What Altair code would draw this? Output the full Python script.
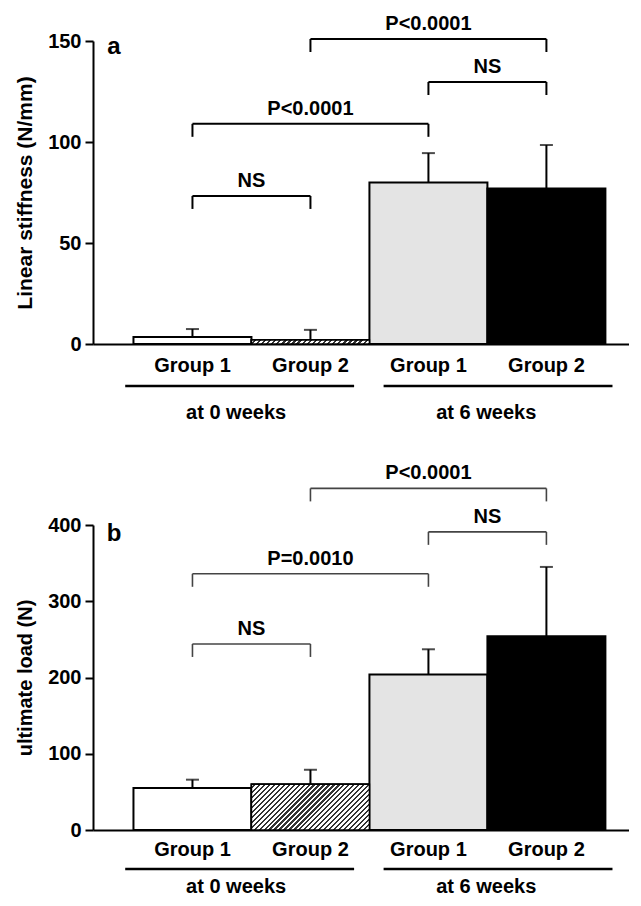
import altair as alt
import pandas as pd

FONT = "Liberation Sans"

# ---- data ----
positions = [1, 2, 3, 4]
groups = ["Group 1", "Group 2", "Group 1", "Group 2"]
styles = ["white", "hatch", "gray", "black"]

stiff_mean = [3.5, 2.0, 80.0, 77.0]
stiff_sd = [3.9, 5.0, 14.5, 21.5]
load_mean = [55, 60, 204, 254]
load_sd = [11, 19, 33, 91]

stiff_br_from = [1, 1, 2, 3]
stiff_br_to = [2, 3, 4, 4]
stiff_br_level = [73.3, 109, 151, 129.7]
stiff_br_label = ["NS", "P<0.0001", "P<0.0001", "NS"]

load_br_from = [1, 1, 2, 3]
load_br_to = [2, 3, 4, 4]
load_br_level = [244, 336, 448, 391]
load_br_label = ["NS", "P=0.0010", "P<0.0001", "NS"]

period_start = [0.43, 2.62]
period_end = [2.37, 4.56]
period_label_pos = [1.37, 3.49]
period_labels = ["at 0 weeks", "at 6 weeks"]

# ---- layout ----
W = 536
X_DOMAIN = [0.157, 4.70]
BAR_PX = W / (X_DOMAIN[1] - X_DOMAIN[0])


def hatch_gradient(h_px, w_px=BAR_PX, period=5.0, dark="#333333"):
    h_px = max(h_px, 1.0)
    d = w_px * w_px + h_px * h_px
    dx = (w_px + h_px) * w_px / d
    dy = (w_px + h_px) * h_px / d
    n = max(int(round((w_px + h_px) / period)), 1)
    stops = []
    for k in range(n):
        a = k / n
        b = (k + 0.55) / n
        c = (k + 1) / n
        stops += [
            alt.GradientStop(color="white", offset=a),
            alt.GradientStop(color="white", offset=b),
            alt.GradientStop(color=dark, offset=b),
            alt.GradientStop(color=dark, offset=c),
        ]
    return alt.LinearGradient(gradient="linear", stops=stops, x1=0, y1=0, x2=dx, y2=dy)


def panel(mean, sd, br_from, br_to, br_level, br_label, ymax, yticks, ytitle,
          letter, H, br_color, br_width, title_size, letter_y, offs):
    bars = pd.DataFrame({
        "pos": positions, "group": groups, "style": styles,
        "mean": mean, "top": [m + s for m, s in zip(mean, sd)],
    })
    xscale = alt.Scale(domain=X_DOMAIN, nice=False, zero=False)
    yscale = alt.Scale(domain=[0, ymax], nice=False)
    base = alt.Chart(bars).transform_calculate(xl="datum.pos - 0.5", xr="datum.pos + 0.5")

    bar = base.mark_bar(stroke="black", strokeWidth=2).encode(
        x=alt.X("xl:Q", scale=xscale,
                axis=alt.Axis(labels=False, ticks=False, title=None, grid=False,
                              domainColor="black", domainWidth=2)),
        x2="xr:Q",
        y=alt.Y("mean:Q", scale=yscale,
                axis=alt.Axis(values=yticks, title=ytitle, grid=False,
                              domainColor="black", domainWidth=2,
                              tickColor="black", tickWidth=2, tickSize=8,
                              labelFont=FONT, labelFontWeight="bold", labelFontSize=20,
                              labelColor="black", labelPadding=4,
                              titleFont=FONT, titleFontWeight="bold", titleFontSize=title_size,
                              titleColor="black", titlePadding=12)),
        y2=alt.datum(0),
        fill=alt.Fill("style:N", scale=alt.Scale(domain=styles,
                                                 range=["white", "white", "#e4e4e4", "black"]),
                      legend=None),
    )
    h_px = mean[1] / ymax * H
    hatch = base.transform_filter("datum.style == 'hatch'").mark_bar(
        fill=hatch_gradient(h_px), stroke="black", strokeWidth=1.5
    ).encode(x="xl:Q", x2="xr:Q", y="mean:Q", y2=alt.datum(0))

    err = base.mark_rule(color="black", strokeWidth=2).encode(
        x="pos:Q", y="mean:Q", y2="top:Q")
    cap = base.mark_tick(orient="horizontal", size=13, thickness=2, color="black").encode(
        x="pos:Q", y="top:Q")

    drop = 13.0 * ymax / H
    br = pd.DataFrame({"from": br_from, "to": br_to, "level": br_level, "label": br_label})
    brb = alt.Chart(br).transform_calculate(
        low=f"datum.level - {drop}", mid="(datum.from + datum.to) / 2")
    br_h = brb.mark_rule(color=br_color, strokeWidth=br_width).encode(
        x="from:Q", x2="to:Q", y="level:Q")
    br_l = brb.mark_rule(color=br_color, strokeWidth=br_width).encode(
        x="from:Q", y="level:Q", y2="low:Q")
    br_r = brb.mark_rule(color=br_color, strokeWidth=br_width).encode(
        x="to:Q", y="level:Q", y2="low:Q")
    br_t = brb.mark_text(font=FONT, fontWeight="bold", fontSize=20, color="black",
                         baseline="bottom", dy=-5).encode(
        x="mid:Q", y="level:Q", text="label:N")

    glab = base.mark_text(font=FONT, fontWeight="bold", fontSize=20, color="black",
                          baseline="middle").encode(
        x="pos:Q", y=alt.value(H + offs[0]), text="group:N")

    per = pd.DataFrame({"start": period_start, "end": period_end,
                        "lp": period_label_pos, "label": period_labels})
    per_rule = alt.Chart(per).mark_rule(color="black", strokeWidth=2.5).encode(
        x="start:Q", x2="end:Q", y=alt.value(H + offs[1]))
    per_text = alt.Chart(per).mark_text(font=FONT, fontWeight="bold", fontSize=20,
                                        color="black", baseline="middle").encode(
        x="lp:Q", y=alt.value(H + offs[2]), text="label:N")

    let = alt.Chart(pd.DataFrame({"t": [letter]})).mark_text(
        font=FONT, fontWeight="bold", fontSize=24, color="black", baseline="middle"
    ).encode(x=alt.value(21), y=alt.value(letter_y), text="t:N")

    return alt.layer(bar, hatch, err, cap, br_h, br_l, br_r, br_t, glab,
                     per_rule, per_text, let).properties(width=W, height=H)


pa = panel(stiff_mean, stiff_sd, stiff_br_from, stiff_br_to, stiff_br_level, stiff_br_label,
           150, [0, 50, 100, 150], "Linear stiffness (N/mm)", "a", 303, "black", 2, 21, 6,
           (22, 42, 69))
pb = panel(load_mean, load_sd, load_br_from, load_br_to, load_br_level, load_br_label,
           400, [0, 100, 200, 300, 400], "ultimate load (N)", "b", 305, "#444444", 1.6, 20, 9,
           (20, 39, 57))

chart = alt.vconcat(pa, pb, spacing=40).properties(
    padding={"left": 6, "top": 5, "right": 0, "bottom": 0}
).configure_view(stroke=None)

chart.save("out.html", embed_options={"renderer": "svg", "actions": False})
